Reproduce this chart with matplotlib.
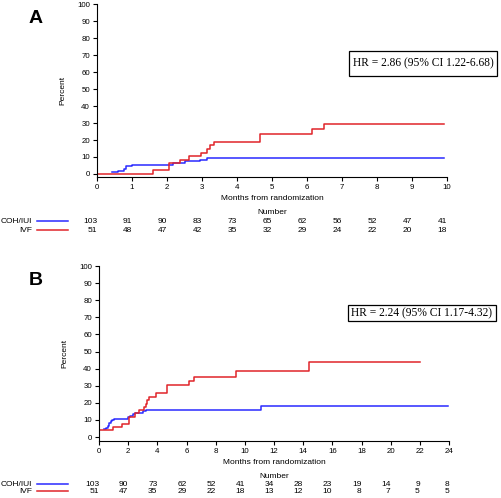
import matplotlib
matplotlib.use('Agg')
import matplotlib.pyplot as plt

plt.rcParams['font.family'] = ['Liberation Sans', 'DejaVu Sans']

BLUE = '#2a2aff'
RED = '#e0242a'

# Panel A data (months, cumulative percent)
a_coh_t = [0.42, 0.6, 0.77, 0.83, 1.0, 2.17, 2.5, 2.94, 3.13, 9.9]
a_coh_y = [1.0, 2.0, 3.0, 4.4, 5.3, 6.4, 7.4, 8.5, 9.5, 9.5]
a_ivf_t = [0, 1.61, 2.07, 2.37, 2.62, 2.98, 3.15, 3.22, 3.35, 4.66, 6.15, 6.48, 9.9]
a_ivf_y = [0, 2.1, 6.3, 8.4, 10.5, 12.6, 14.7, 16.8, 18.9, 23.5, 26.6, 29.5, 29.5]
a_ticks = list(range(0, 11))
a_coh_n = [103, 91, 90, 83, 73, 65, 62, 56, 52, 47, 41]
a_ivf_n = [51, 48, 47, 42, 35, 32, 29, 24, 22, 20, 18]
a_hr = 'HR = 2.86 (95% CI 1.22-6.68)'

# Panel B data
b_coh_t = [0.35, 0.5, 0.6, 0.7, 0.8, 0.9, 1.0, 2.0, 2.1, 2.3, 2.5, 3.0, 3.2, 11.1, 23.9]
b_coh_y = [4.5, 5.5, 6.5, 8.0, 9.5, 10.2, 10.8, 11.6, 12.5, 13.4, 14.0, 15.0, 16.0, 18.1, 18.1]
b_ivf_t = [0, 0.96, 1.6, 2.03, 2.49, 2.74, 3.1, 3.2, 3.3, 3.4, 3.9, 4.63, 6.16, 6.5, 9.4, 14.42, 22.0]
b_ivf_y = [3.9, 5.9, 7.9, 11.8, 13.8, 15.7, 17.7, 19.6, 21.6, 23.5, 25.5, 30.2, 32.5, 35.3, 38.5, 43.8, 43.8]
b_ticks = list(range(0, 25, 2))
b_coh_n = [103, 90, 73, 62, 52, 41, 34, 28, 23, 19, 14, 9, 8]
b_ivf_n = [51, 47, 35, 29, 22, 18, 13, 12, 10, 8, 7, 5, 5]
b_hr = 'HR = 2.24 (95% CI 1.17-4.32)'

W, H = 502, 498
FS = 6
fig = plt.figure(figsize=(W / 100, H / 100), dpi=100)


def panel(rect, letter, coh_t, coh_y, ivf_t, ivf_y, ticks, coh_n, ivf_n, hr,
          ylo, rows, hr_box):
    ax = fig.add_axes(rect)
    ax.step(coh_t, coh_y, where='post', color=BLUE, lw=1.1)
    ax.step(ivf_t, ivf_y, where='post', color=RED, lw=1.1)
    if ivf_t[0] == 0 and ivf_y[0] > 0:
        ax.plot([0, 0], [0, ivf_y[0]], color=RED, lw=1.1)
    ax.set_xlim(ticks[0], ticks[-1])
    ax.set_ylim(ylo, 100)
    ax.set_xticks(ticks)
    ax.set_yticks(range(0, 101, 10))
    for s in ['top', 'right']:
        ax.spines[s].set_visible(False)
    for s in ['left', 'bottom']:
        ax.spines[s].set_linewidth(0.8)
    ax.tick_params(direction='out', length=3, width=0.8, pad=2, labelsize=5.7)
    ax.set_xlabel('Months from randomization', fontsize=FS, labelpad=3)
    ax.set_ylabel('Percent', fontsize=FS, labelpad=8)

    tr = ax.get_xaxis_transform()
    y_num, y_coh, y_ivf = rows
    mid = (ticks[0] + ticks[-1]) / 2
    ax.text(mid, y_num, 'Number', transform=tr, ha='center', va='center',
            fontsize=FS, clip_on=False)
    for x, c, v in zip(ticks, coh_n, ivf_n):
        ax.text(x, y_coh, str(c), transform=tr, ha='right', va='center',
                fontsize=FS, clip_on=False)
        ax.text(x, y_ivf, str(v), transform=tr, ha='right', va='center',
                fontsize=FS, clip_on=False)

    # group labels with legend lines, in figure coords
    for yy, name, col in [(y_coh, 'COH/IUI', BLUE), (y_ivf, 'IVF', RED)]:
        fy = rect[1] + yy * rect[3]
        fig.text(32 / W, fy, name, ha='right', va='center', fontsize=FS)
        fig.lines.append(plt.Line2D([37 / W, 68 / W], [fy, fy], color=col,
                                    lw=1.1, transform=fig.transFigure))

    # panel letter
    fig.text(36 / W, rect[1] + rect[3] - 14 / H, letter, ha='center',
             va='center', fontsize=14, fontweight='bold')

    # hazard ratio box
    x0, y0, x1, y1 = hr_box
    fig.patches.append(plt.Rectangle((x0 / W, 1 - y1 / H), (x1 - x0) / W,
                                     (y1 - y0) / H, fill=False, ec='black',
                                     lw=0.9, transform=fig.transFigure))
    fig.text((x0 + x1) / 2 / W, 1 - (y0 + y1) / 2 / H, hr, ha='center',
             va='center', fontsize=8.3, family='Liberation Serif')
    return ax


panel([97 / W, 1 - 177 / H, 350 / W, 172.7 / H], 'A',
      a_coh_t, a_coh_y, a_ivf_t, a_ivf_y, a_ticks, a_coh_n, a_ivf_n, a_hr,
      -1.8, (-0.203, -0.255, -0.307), (349, 51, 497, 76))

panel([99 / W, 1 - 441 / H, 350 / W, 175 / H], 'B',
      b_coh_t, b_coh_y, b_ivf_t, b_ivf_y, b_ticks, b_coh_n, b_ivf_n, b_hr,
      -2.3, (-0.2, -0.246, -0.286), (348, 305, 496, 321))

fig.savefig('out.png', dpi=100)
